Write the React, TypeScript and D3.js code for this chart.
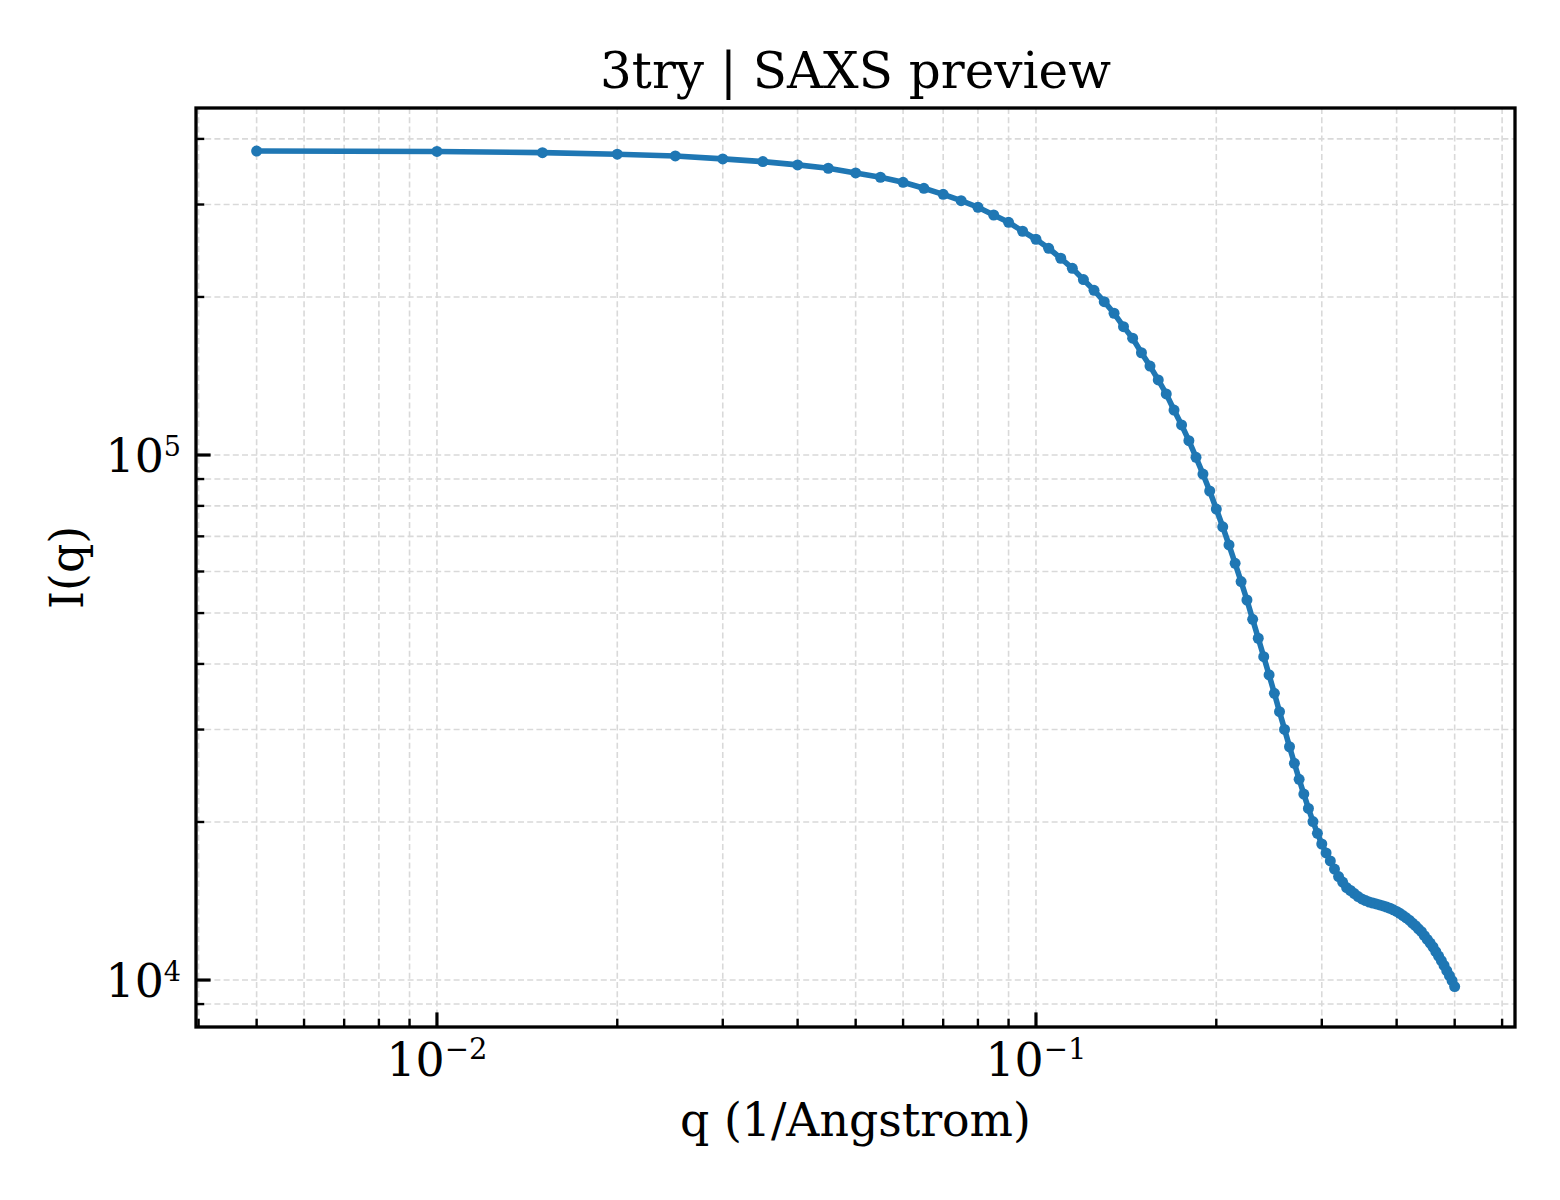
import React from "react";
import * as d3 from "d3";

// ---- data ----
const qValues = [
  0.005, 0.01, 0.015, 0.02, 0.025, 0.03, 0.035, 0.04, 0.045, 0.05,
  0.055, 0.06, 0.065, 0.07, 0.075, 0.08, 0.085, 0.09, 0.095, 0.1,
  0.105, 0.11, 0.115, 0.12, 0.125, 0.13, 0.135, 0.14, 0.145, 0.15,
  0.155, 0.16, 0.165, 0.17, 0.175, 0.18, 0.185, 0.19, 0.195, 0.2,
  0.205, 0.21, 0.215, 0.22, 0.225, 0.23, 0.235, 0.24, 0.245, 0.25,
  0.255, 0.26, 0.265, 0.27, 0.275, 0.28, 0.285, 0.29, 0.295, 0.3,
  0.305, 0.31, 0.315, 0.32, 0.325, 0.33, 0.335, 0.34, 0.345, 0.35,
  0.355, 0.36, 0.365, 0.37, 0.375, 0.38, 0.385, 0.39, 0.395, 0.4,
  0.405, 0.41, 0.415, 0.42, 0.425, 0.43, 0.435, 0.44, 0.445, 0.45,
  0.455, 0.46, 0.465, 0.47, 0.475, 0.48, 0.485, 0.49, 0.495, 0.5,
];

const intensity = [
  379300, 378600, 376600, 374000, 371200, 366400, 362100, 356900, 351700, 344500,
  338100, 330700, 322100, 313700, 305100, 296400, 286500, 277500, 266800, 257600,
  247600, 237000, 226800, 215800, 205900, 195900, 186200, 175600, 166900, 156600,
  147700, 139000, 130700, 121800, 114100, 106500, 99000, 92000, 85400, 78900,
  73000, 67400, 62200, 57400, 52950, 48640, 44770, 41290, 38110, 35170,
  32440, 30020, 27820, 25870, 24120, 22610, 21230, 20040, 19030, 18160,
  17460, 16860, 16270, 15740, 15370, 15000, 14810, 14610, 14420, 14270,
  14170, 14080, 14020, 13960, 13900, 13840, 13770, 13700, 13610, 13510,
  13400, 13270, 13140, 13000, 12840, 12690, 12520, 12360, 12150, 11950,
  11760, 11560, 11330, 11110, 10890, 10660, 10420, 10200, 9970, 9720,
];

const xMajorTicks = [0.01, 0.1];
const xMajorLabels = ["\u22122", "\u22121"];
const xMinorTicks = [
  0.004, 0.005, 0.006, 0.007, 0.008, 0.009,
  0.02, 0.03, 0.04, 0.05, 0.06, 0.07, 0.08, 0.09,
  0.2, 0.3, 0.4, 0.5, 0.6,
];
const yMajorTicks = [1e4, 1e5];
const yMajorLabels = ["4", "5"];
const yMinorTicks = [
  9e3, 2e4, 3e4, 4e4, 5e4, 6e4, 7e4, 8e4, 9e4, 2e5, 3e5, 4e5,
];

const titleText = "3try | SAXS preview";
const xLabelText = "q (1/Angstrom)";
const yLabelText = "I(q)";

// ---- layout ----
const W = 1560;
const H = 1200;
const left = 196;
const right = 1515;
const top = 108;
const bottom = 1027;
const FONT = "'DejaVu Serif', serif";
const BLUE = "#1f77b4";
const GRID = "#d9d9d9";

export default function App() {
  const x = d3.scaleLog().domain([0.0039606, 0.63048]).range([left, right]);
  const y = d3.scaleLog().domain([8139, 458070]).range([bottom, top]);

  const pts = qValues.map((q, i) => [q, intensity[i]] as [number, number]);
  const line = d3
    .line<[number, number]>()
    .x((d) => x(d[0]))
    .y((d) => y(d[1]));

  const allX = [...xMajorTicks, ...xMinorTicks];
  const allY = [...yMajorTicks, ...yMinorTicks];

  return (
    <svg
      width={W}
      height={H}
      style={{ position: "absolute", left: 0, top: 0, background: "#fff" }}
      fontFamily={FONT}
    >
      <rect x={0} y={0} width={W} height={H} fill="#fff" />
      {/* grid */}
      <g stroke={GRID} strokeWidth={1.6} strokeDasharray="6,3.2">
        {allX.map((t, i) => (
          <line key={"gx" + i} x1={x(t)} x2={x(t)} y1={top} y2={bottom} />
        ))}
        {allY.map((t, i) => (
          <line key={"gy" + i} x1={left} x2={right} y1={y(t)} y2={y(t)} />
        ))}
      </g>

      {/* data */}
      <path d={line(pts) || ""} fill="none" stroke={BLUE} strokeWidth={5.6} strokeLinejoin="round" strokeLinecap="round" />
      {pts.map((p, i) => (
        <circle key={"p" + i} cx={x(p[0])} cy={y(p[1])} r={5.5} fill={BLUE} />
      ))}

      {/* ticks (inward) */}
      <g stroke="#000">
        {xMajorTicks.map((t, i) => (
          <line key={"xM" + i} x1={x(t)} x2={x(t)} y1={bottom} y2={bottom - 14.6} strokeWidth={3.2} />
        ))}
        {xMinorTicks.map((t, i) => (
          <line key={"xm" + i} x1={x(t)} x2={x(t)} y1={bottom} y2={bottom - 8.3} strokeWidth={2.4} />
        ))}
        {yMajorTicks.map((t, i) => (
          <line key={"yM" + i} x1={left} x2={left + 14.6} y1={y(t)} y2={y(t)} strokeWidth={3.2} />
        ))}
        {yMinorTicks.map((t, i) => (
          <line key={"ym" + i} x1={left} x2={left + 8.3} y1={y(t)} y2={y(t)} strokeWidth={2.4} />
        ))}
      </g>

      {/* frame */}
      <rect x={left} y={top} width={right - left} height={bottom - top} fill="none" stroke="#000" strokeWidth={3.3} />

      {/* tick labels */}
      {xMajorTicks.map((t, i) => (
        <text key={"xl" + i} x={x(t)} y={1076} textAnchor="middle" fontSize={45.8} fill="#000">
          10
          <tspan fontSize={29} dy={-17}>{xMajorLabels[i]}</tspan>
        </text>
      ))}
      {yMajorTicks.map((t, i) => (
        <text key={"yl" + i} x={181} y={y(t) + 16.5} textAnchor="end" fontSize={45.8} fill="#000">
          10
          <tspan fontSize={27} dy={-16}>{yMajorLabels[i]}</tspan>
        </text>
      ))}

      {/* title and axis labels */}
      <text x={(left + right) / 2} y={88} textAnchor="middle" fontSize={50} fill="#000">
        {titleText}
      </text>
      <text x={(left + right) / 2} y={1136} textAnchor="middle" fontSize={45.8} fill="#000">
        {xLabelText}
      </text>
      <text
        transform={`translate(83, ${(top + bottom) / 2}) rotate(-90)`}
        textAnchor="middle"
        fontSize={45.8}
        fill="#000"
      >
        {yLabelText}
      </text>
    </svg>
  );
}
